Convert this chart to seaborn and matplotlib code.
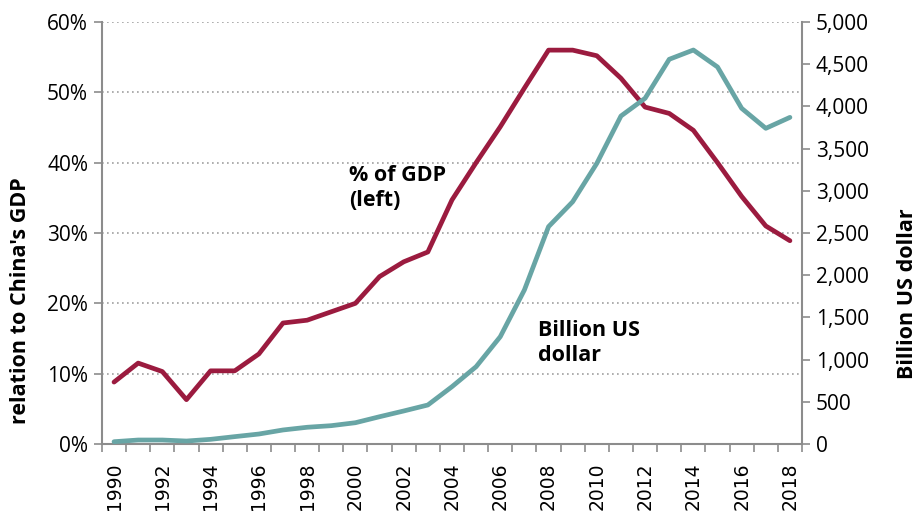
import matplotlib
matplotlib.use("Agg")
import matplotlib.pyplot as plt
import seaborn as sns
import pandas as pd
from matplotlib.ticker import FuncFormatter, FixedLocator

years = list(range(1990, 2019))
pct_gdp = [8.8, 11.5, 10.3, 6.3, 10.4, 10.4, 12.8, 17.2, 17.6, 18.8, 20.0,
           23.8, 25.9, 27.3, 34.7, 40.0, 45.1, 50.6, 56.0, 56.0, 55.2, 52.0,
           47.9, 47.0, 44.6, 40.0, 35.2, 31.0, 28.9]
bn_usd = [27, 47, 47, 35, 55, 87, 118, 166, 198, 217, 252, 323, 391, 462,
          679, 916, 1271, 1825, 2575, 2870, 3325, 3886, 4096, 4558, 4668,
          4467, 3977, 3740, 3870]

df = pd.DataFrame({"idx": range(len(years)), "year": years,
                   "pct": pct_gdp, "usd": bn_usd})

sns.set_theme(style="white")
plt.rcParams["font.family"] = ["Open Sans", "DejaVu Sans"]
plt.rcParams["text.color"] = "black"
plt.rcParams["axes.labelcolor"] = "black"
plt.rcParams["xtick.color"] = "black"
plt.rcParams["ytick.color"] = "black"

red = "#9B1B3F"
teal = "#68A5A5"
gray = "#8C8C8C"

fig = plt.figure(figsize=(9.21, 5.15), dpi=100)
ax = fig.add_axes([0.1107, 0.1379, 0.7601, 0.8194])
ax2 = ax.twinx()

sns.lineplot(data=df, x="idx", y="pct", ax=ax, color=red, linewidth=3.4)
sns.lineplot(data=df, x="idx", y="usd", ax=ax2, color=teal, linewidth=3.4)

n = len(years)
ax.set_xlim(-0.5, n - 0.5)
ax.set_ylim(0, 60)
ax2.set_ylim(0, 5000)

# x ticks: marks at category boundaries, labels at even years
ax.xaxis.set_major_locator(FixedLocator([i for i in range(n) if years[i] % 2 == 0]))
ax.set_xticklabels([str(years[i]) for i in range(n) if years[i] % 2 == 0],
                   rotation=90, family="DejaVu Sans", fontsize=13.5)
ax.xaxis.set_minor_locator(FixedLocator([i - 0.5 for i in range(n + 1)]))
ax.tick_params(axis="x", which="major", length=0, pad=13)
ax.tick_params(axis="x", which="minor", length=6, width=1.2, color=gray,
               direction="out", bottom=True)

ax.set_yticks(range(0, 61, 10))
ax.yaxis.set_major_formatter(FuncFormatter(lambda v, p: f"{int(v)}%"))
ax.tick_params(axis="y", length=6, width=1.2, color=gray, labelcolor="black",
               labelsize=15, direction="out", left=True, pad=4)
ax2.set_yticks(range(0, 5001, 500))
ax2.yaxis.set_major_formatter(FuncFormatter(lambda v, p: f"{int(v):,}"))
ax2.tick_params(axis="y", length=6, width=1.2, color=gray, labelcolor="black",
                labelsize=15, direction="out", right=True, pad=4)

ax.grid(axis="y", color="#A0A0A0", linestyle=(0, (1, 2)), linewidth=1.2)
ax.grid(axis="x", visible=False)
ax2.grid(False)

for a in (ax, ax2):
    a.spines["top"].set_visible(False)
    for s in ("left", "right", "bottom"):
        a.spines[s].set_color(gray)
        a.spines[s].set_linewidth(1.5)
ax.spines["right"].set_visible(False)
ax2.spines["left"].set_visible(False)
ax2.spines["bottom"].set_visible(False)

ax.set_xlabel("")
ax.set_ylabel("relation to China's GDP", fontsize=15.5, fontweight="bold")
ax.yaxis.set_label_coords(-0.102, 0.34)
ax2.set_ylabel("Billion US dollar", fontsize=15.5, fontweight="bold")
ax2.yaxis.set_label_coords(1.135, 0.355)

ax.text(9.75, 39.6, "% of GDP\n(left)", fontsize=15.5, fontweight="bold",
        ha="left", va="top", linespacing=1.25, color="black")
ax.text(17.56, 17.6, "Billion US\ndollar", fontsize=15.5, fontweight="bold",
        ha="left", va="top", linespacing=1.25, color="black")

fig.savefig("out.png", dpi=100)
